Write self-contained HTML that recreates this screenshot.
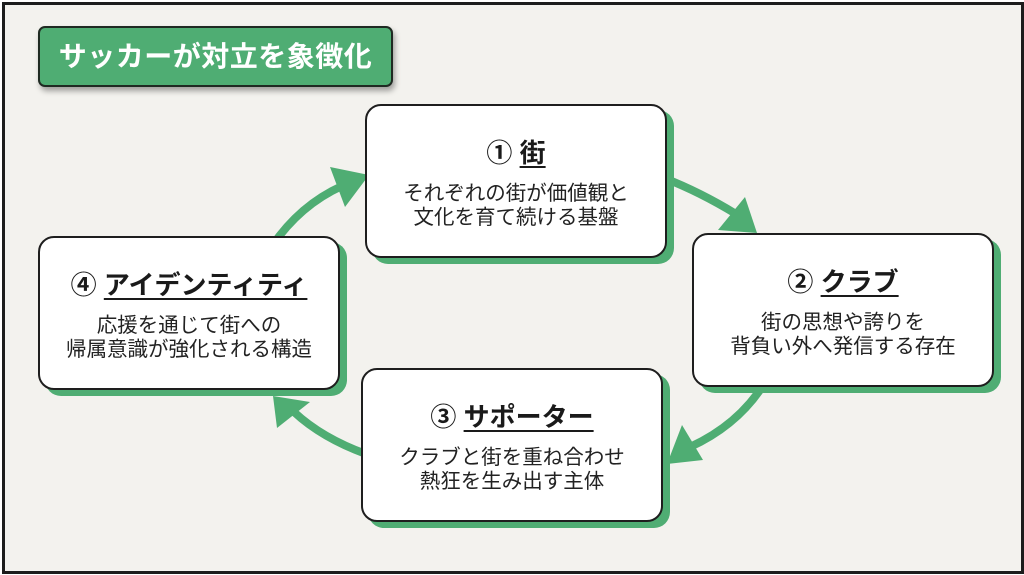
<!DOCTYPE html>
<html><head><meta charset="utf-8"><style>
html,body{margin:0;padding:0;width:1024px;height:575px;background:#ffffff;overflow:hidden;}
body{position:relative;font-family:"Liberation Sans","Noto Sans CJK JP",sans-serif;color:#222;}
.frame{position:absolute;left:2px;top:2px;width:1016px;height:566px;border:3px solid #1c1c1c;background:#f3f2ee;}
.title{position:absolute;left:38px;top:26px;width:351px;height:57px;background:#4fad73;border:2px solid #1f2a22;border-radius:7px;box-shadow:2px 4px 6px rgba(0,0,0,0.35);color:#fff;font-weight:bold;font-size:28px;line-height:57px;text-align:center;letter-spacing:0.5px;}
svg{position:absolute;left:0;top:0;}
.box{position:absolute;width:298px;height:150px;background:#fff;border:2px solid #1e1e1e;border-radius:16px;box-shadow:7px 6px 0 #4fad73;text-align:center;}
.box .h{position:absolute;left:0;right:0;top:30px;font-size:26px;font-weight:bold;line-height:34px;color:#1a1a1a;}
.box .h u{text-decoration:underline;text-decoration-thickness:2px;text-underline-offset:4px;}
.box .b{position:absolute;left:0;right:0;top:76px;font-size:20.5px;line-height:24px;color:#222;}
</style></head><body>
<div class="frame"></div>
<svg width="1024" height="575" viewBox="0 0 1024 575">
<g fill="none" stroke="#4fad73" stroke-width="8" stroke-linecap="butt">
<path d="M272 246 Q300 205 342 186"/>
<path d="M664 178 Q700 192 736 214"/>
<path d="M764 384 Q738 425 690 447"/>
<path d="M366 454 Q322 438 294 412"/>
</g>
<g fill="#4fad73">
<polygon points="330,167 369,175 345,207"/>
<polygon points="745,197 757,233 718,230"/>
<polygon points="682,425 703,460 667,464"/>
<polygon points="273,396 310,402 277,428"/>
</g>
</svg>
<div class="title">サッカーが対立を象徴化</div>
<div class="box" style="left:365px;top:104px;">
<div class="h">① <u>街</u></div>
<div class="b">それぞれの街が価値観と<br>文化を育て続ける基盤</div>
</div>
<div class="box" style="left:692px;top:233px;">
<div class="h">② <u>クラブ</u></div>
<div class="b">街の思想や誇りを<br>背負い外へ発信する存在</div>
</div>
<div class="box" style="left:361px;top:368px;">
<div class="h">③ <u>サポーター</u></div>
<div class="b">クラブと街を重ね合わせ<br>熱狂を生み出す主体</div>
</div>
<div class="box" style="left:38px;top:236px;">
<div class="h">④ <u>アイデンティティ</u></div>
<div class="b">応援を通じて街への<br>帰属意識が強化される構造</div>
</div>
</body></html>
